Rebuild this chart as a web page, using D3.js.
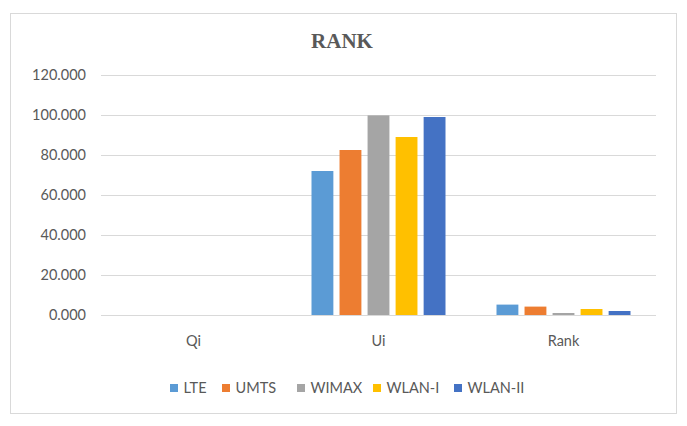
<!DOCTYPE html>
<html><head><meta charset="utf-8">
<script src="https://cdn.jsdelivr.net/npm/d3@7"></script>
<style>body{margin:0;background:#fff;}svg{display:block;}</style>
</head><body>
<script>
const categories = ["Qi", "Ui", "Rank"];
const seriesNames = ["LTE", "UMTS", "WIMAX", "WLAN-I", "WLAN-II"];
const LTE = [0, 72, 5.2];
const UMTS = [0, 82.5, 4.2];
const WIMAX = [0, 99.8, 1.0];
const WLAN_I = [0, 89, 3.0];
const WLAN_II = [0, 99, 2.0];
const seriesValues = [LTE, UMTS, WIMAX, WLAN_I, WLAN_II];
const colors = ["#5B9BD5", "#ED7D31", "#A5A5A5", "#FFC000", "#4472C4"];
const yTicks = [0, 20, 40, 60, 80, 100, 120];

(function () {
const W = 687, H = 426;
const FONT = "Lato, Calibri, sans-serif";
const FS = 14.5;
const svg = d3.select("body").append("svg").attr("width", W).attr("height", H);
svg.append("rect").attr("x", 10.5).attr("y", 13.5).attr("width", 666).attr("height", 400)
  .attr("fill", "#fff").attr("stroke", "#d9d9d9").attr("stroke-width", 1);

svg.append("text").attr("x", 342).attr("y", 48).attr("text-anchor", "middle")
  .attr("font-family", "Liberation Serif, Times New Roman, serif").attr("font-weight", "bold")
  .attr("font-size", 21).attr("fill", "#595959").text("RANK");

const pLeft = 101, pRight = 656, pTop = 75, pBottom = 315;
const x0 = d3.scaleBand().domain(categories).range([pLeft, pRight]).paddingInner(0).paddingOuter(0);
const x1 = d3.scaleBand().domain(seriesNames).range([25.5, x0.bandwidth() - 25.5]).paddingInner(0.22).paddingOuter(0);
const y = d3.scaleLinear().domain([0, 120]).range([pBottom, pTop]);

const grid = svg.append("g");
grid.selectAll("line").data(yTicks).join("line")
  .attr("x1", pLeft).attr("x2", pRight)
  .attr("y1", d => Math.round(y(d)) + 0.5).attr("y2", d => Math.round(y(d)) + 0.5)
  .attr("stroke", "#d9d9d9").attr("stroke-width", 1);

const yAxis = svg.append("g").attr("transform", `translate(${pLeft},0)`)
  .call(d3.axisLeft(y).tickValues(yTicks).tickFormat(d3.format(".3f")).tickSize(0).tickPadding(15));
yAxis.select(".domain").remove();
yAxis.selectAll("text").attr("font-family", FONT).attr("font-size", FS).attr("fill", "#595959");

const xAxis = svg.append("g").attr("transform", `translate(0,${pBottom})`)
  .call(d3.axisBottom(x0).tickSize(0).tickPadding(21));
xAxis.select(".domain").remove();
xAxis.selectAll("text").attr("font-family", FONT).attr("font-size", FS).attr("fill", "#595959");

const groups = svg.append("g").selectAll("g").data(categories).join("g")
  .attr("transform", d => `translate(${x0(d)},0)`);
groups.selectAll("rect").data((c, ci) => seriesNames.map((s, si) => ({s, v: seriesValues[si][ci], color: colors[si]})))
  .join("rect")
  .attr("x", d => x1(d.s)).attr("width", x1.bandwidth())
  .attr("y", d => y(d.v)).attr("height", d => pBottom - y(d.v))
  .attr("fill", d => d.color);

const legendX = [170, 222, 297, 373, 454];
const lg = svg.append("g").selectAll("g").data(seriesNames).join("g")
  .attr("transform", (d, i) => `translate(${legendX[i]},384)`);
lg.append("rect").attr("width", 8).attr("height", 8).attr("fill", (d, i) => colors[i]);
lg.append("text").attr("x", 13.5).attr("y", 8.5).attr("font-family", FONT)
  .attr("font-size", FS).attr("fill", "#595959").text(d => d);
})();
</script>
</body></html>
